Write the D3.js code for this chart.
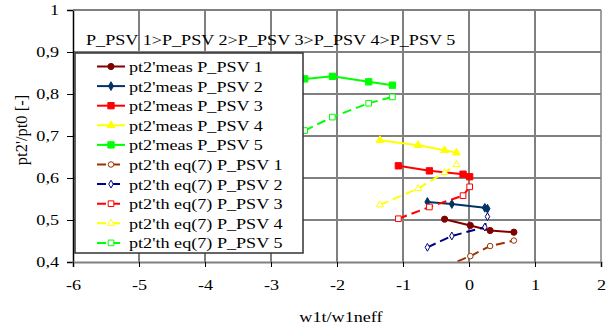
<!DOCTYPE html>
<html>
<head>
<meta charset="utf-8">
<script src="https://cdn.jsdelivr.net/npm/d3@7"></script>
<style>
  html, body { margin: 0; padding: 0; background: #fff; }
  svg text { font-family: "Liberation Serif", "Times New Roman", serif; font-size: 15.5px; fill: #000; }
</style>
</head>
<body>
<svg id="chart" width="615" height="329"></svg>
<script>
// chart data
const xTicks = [-6, -5, -4, -3, -2, -1, 0, 1, 2];
const yTicks = [0.4, 0.5, 0.6, 0.7, 0.8, 0.9, 1];
const yTickLabels = ["0,4", "0,5", "0,6", "0,7", "0,8", "0,9", "1"];

const seriesNames = [
    "pt2'meas P_PSV 1", "pt2'meas P_PSV 2", "pt2'meas P_PSV 3", "pt2'meas P_PSV 4", "pt2'meas P_PSV 5",
    "pt2'th eq(7) P_PSV 1", "pt2'th eq(7) P_PSV 2", "pt2'th eq(7) P_PSV 3", "pt2'th eq(7) P_PSV 4", "pt2'th eq(7) P_PSV 5"
];
const seriesColors = ["#800000", "#003366", "#ff0000", "#ffff00", "#00ff00",
                      "#993300", "#000080", "#ff0000", "#ffff00", "#00ff00"];
const seriesSymbols = ["circle", "diamond", "square", "triangle", "square",
                       "circle", "diamond", "square", "triangle", "square"];
const seriesDashed = [false, false, false, false, false, true, true, true, true, true];

// x values (w1t/w1neff) and y values (pt2'/pt0) per series
const xMeas1 = [-0.37, 0.02, 0.32, 0.68];
const yMeas1 = [0.502, 0.487, 0.475, 0.471];
const xMeas2 = [-0.63, -0.26, 0.24, 0.28];
const yMeas2 = [0.543, 0.538, 0.529, 0.527];
const xMeas3 = [-1.07, -0.60, -0.09, 0.01];
const yMeas3 = [0.629, 0.617, 0.609, 0.603];
const xMeas4 = [-1.35, -0.77, -0.37, -0.19];
const yMeas4 = [0.690, 0.678, 0.666, 0.660];
const xMeas5 = [-2.49, -2.07, -1.52, -1.16];
const yMeas5 = [0.836, 0.842, 0.829, 0.821];
const xTh1 = [-0.37, 0.02, 0.32, 0.68];
const yTh1 = [0.389, 0.414, 0.438, 0.451];
const xTh2 = [-0.63, -0.26, 0.24, 0.28];
const yTh2 = [0.435, 0.462, 0.483, 0.508];
const xTh3 = [-1.07, -0.60, -0.09, 0.01];
const yTh3 = [0.503, 0.531, 0.558, 0.579];
const xTh4 = [-1.35, -0.77, -0.37, -0.19];
const yTh4 = [0.536, 0.575, 0.613, 0.632];
const xTh5 = [-2.49, -2.07, -1.52, -1.16];
const yTh5 = [0.713, 0.745, 0.778, 0.793];

const seriesX = [xMeas1, xMeas2, xMeas3, xMeas4, xMeas5, xTh1, xTh2, xTh3, xTh4, xTh5];
const seriesY = [yMeas1, yMeas2, yMeas3, yMeas4, yMeas5, yTh1, yTh2, yTh3, yTh4, yTh5];

const noteText = "P_PSV 1>P_PSV 2>P_PSV 3>P_PSV 4>P_PSV 5";
const xTitle = "w1t/w1neff";
const yTitle = "pt2'/pt0 [-]";

// layout
const width = 615, height = 329;
const margin = { top: 10, right: 14, bottom: 67, left: 73 };
const stretch = 1.17; // the original text is a bit wider than the font

const svg = d3.select("#chart");
const x = d3.scaleLinear().domain([-6, 2]).range([margin.left, width - margin.right]);
const y = d3.scaleLinear().domain([0.4, 1]).range([height - margin.bottom, margin.top]);

function widen(sel) {
    sel.each(function() {
        const len = this.getComputedTextLength();
        d3.select(this).attr("textLength", len * stretch).attr("lengthAdjust", "spacingAndGlyphs");
    });
}

// vertical gridlines (black, thin)
svg.append("g").selectAll("line")
    .data(xTicks.slice(1, -1))
    .enter().append("line")
    .attr("x1", d => x(d)).attr("x2", d => x(d))
    .attr("y1", y(1)).attr("y2", y(0.4))
    .attr("stroke", "#000").attr("stroke-width", 1);

// horizontal gridlines (grey, thicker)
svg.append("g").selectAll("line")
    .data(yTicks.slice(1))
    .enter().append("line")
    .attr("x1", x(-6)).attr("x2", x(2))
    .attr("y1", d => y(d)).attr("y2", d => y(d))
    .attr("stroke", "#808080").attr("stroke-width", 2);

// right border
svg.append("line")
    .attr("x1", x(2)).attr("x2", x(2)).attr("y1", y(1)).attr("y2", y(0.4))
    .attr("stroke", "#808080").attr("stroke-width", 1.5);

// annotation (gridlines show through it)
svg.append("text")
    .attr("x", 86).attr("y", 45)
    .text(noteText)
    .call(widen);

// series
svg.append("defs").append("clipPath").attr("id", "plotclip")
    .append("rect")
    .attr("x", x(-6)).attr("y", y(1))
    .attr("width", x(2) - x(-6)).attr("height", y(0.4) - y(1));

const plot = svg.append("g").attr("clip-path", "url(#plotclip)");
const line = d3.line().x(d => x(d[0])).y(d => y(d[1]));

function symbolPath(type, big) {
    const t = { circle: d3.symbolCircle, diamond: d3.symbolDiamond, square: d3.symbolSquare, triangle: d3.symbolTriangle }[type];
    const size = { circle: 30, diamond: 22, square: 40, triangle: 26 }[type];
    return d3.symbol().type(t).size(big ? size : size * 0.8)();
}

seriesNames.forEach((name, i) => {
    const pts = seriesX[i].map((v, k) => [v, seriesY[i][k]]);
    plot.append("path")
        .datum(pts)
        .attr("d", line)
        .attr("fill", "none")
        .attr("stroke", seriesColors[i])
        .attr("stroke-width", 2)
        .attr("stroke-dasharray", seriesDashed[i] ? "9,5" : null);
    plot.selectAll(null)
        .data(pts)
        .enter().append("path")
        .attr("transform", d => `translate(${x(d[0])},${y(d[1])})`)
        .attr("d", symbolPath(seriesSymbols[i], !seriesDashed[i]))
        .attr("fill", seriesDashed[i] ? "#fff" : seriesColors[i])
        .attr("stroke", seriesColors[i])
        .attr("stroke-width", 1);
});

// axes
const yAxis = svg.append("g")
    .attr("transform", `translate(${x(-6)},0)`)
    .call(d3.axisLeft(y).tickValues(yTicks).tickFormat((d, i) => yTickLabels[i]).tickSize(6).tickPadding(8));
yAxis.select(".domain").attr("stroke", "#000").attr("stroke-width", 1.5);
yAxis.selectAll(".tick line").attr("stroke", "#000");
yAxis.selectAll(".tick text").style("font-size", "15.5px").attr("font-family", null).call(widen);

const xAxis = svg.append("g")
    .attr("transform", `translate(0,${y(0.4)})`)
    .call(d3.axisBottom(x).tickValues(xTicks).tickFormat(d => String(d)).tickSize(5).tickPadding(12));
xAxis.select(".domain").attr("stroke", "#808080").attr("stroke-width", 2);
xAxis.selectAll(".tick line").attr("stroke", "#000");
xAxis.selectAll(".tick text").style("font-size", "15.5px").attr("font-family", null).call(widen);

// top border
svg.append("line")
    .attr("x1", x(-6)).attr("x2", x(2)).attr("y1", y(1)).attr("y2", y(1))
    .attr("stroke", "#808080").attr("stroke-width", 1.5);

// axis titles
svg.append("text")
    .attr("x", 341).attr("y", 322)
    .attr("text-anchor", "middle")
    .text(xTitle)
    .call(widen);

svg.append("text")
    .attr("transform", "translate(27,130) rotate(-90)")
    .attr("text-anchor", "middle")
    .style("font-size", "16.5px")
    .text(yTitle);

// legend (drawn over the plot)
const legend = svg.append("g").attr("transform", "translate(75,53)");
legend.append("rect")
    .attr("width", 228).attr("height", 200)
    .attr("fill", "#fff")
    .attr("stroke", "#333").attr("stroke-width", 1.5);

const items = legend.selectAll(".item")
    .data(seriesNames)
    .enter().append("g")
    .attr("class", "item")
    .attr("transform", (d, i) => `translate(0,${13.5 + i * 19.6})`);

items.append("line")
    .attr("x1", 22).attr("x2", 50)
    .attr("stroke", (d, i) => seriesColors[i])
    .attr("stroke-width", 2)
    .attr("stroke-dasharray", (d, i) => seriesDashed[i] ? "9,5" : null);

items.append("path")
    .attr("transform", "translate(36,0)")
    .attr("d", (d, i) => symbolPath(seriesSymbols[i], !seriesDashed[i]))
    .attr("fill", (d, i) => seriesDashed[i] ? "#fff" : seriesColors[i])
    .attr("stroke", (d, i) => seriesColors[i])
    .attr("stroke-width", 1);

items.append("text")
    .attr("x", 54).attr("y", 5.5)
    .text(d => d)
    .call(widen);
</script>
</body>
</html>
